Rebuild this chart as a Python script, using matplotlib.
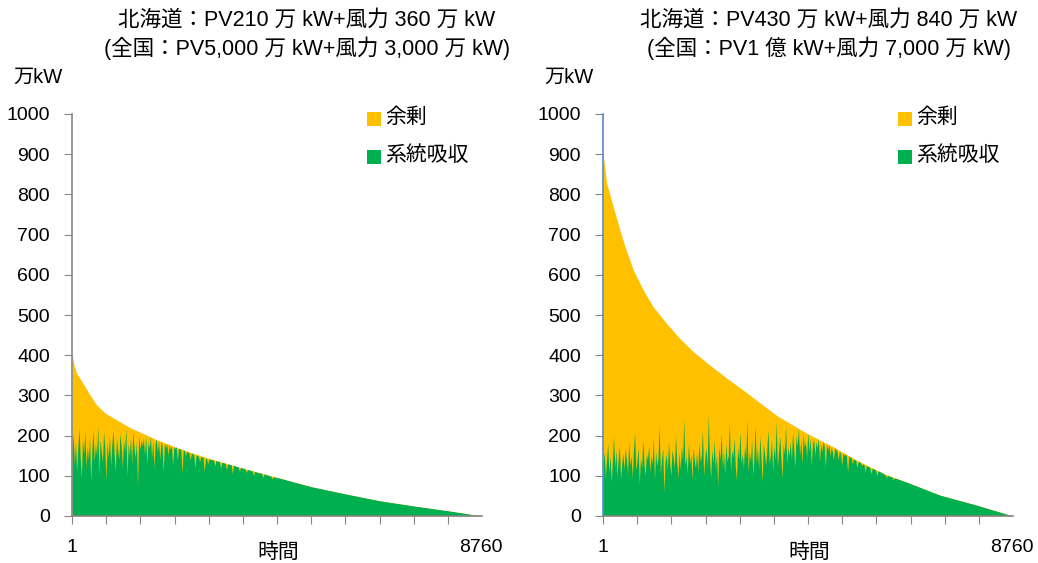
import numpy as np
import matplotlib.pyplot as plt
from matplotlib.patches import Rectangle

plt.rcParams['font.family'] = ['Liberation Sans', 'Noto Sans CJK JP']

YELLOW = '#FFC000'
GREEN = '#00B050'
GREY = '#868686'

# 年間持続曲線（降順）: 時間, 万kW
hk_hours = [1, 14, 43, 100, 171, 278, 385, 527, 720, 955, 1239, 1467, 1809,
            2179, 2521, 2913, 3650, 4380, 5110, 5840, 6570, 7300, 8030, 8760]
hk_total = [400, 396, 376, 355, 342, 322, 301, 276, 255, 239, 220, 208, 190,
            173, 159, 144, 119, 96, 73, 55, 38, 25, 13, 0]

nat_hours = [1, 79, 220, 363, 470, 648, 861, 1075, 1361, 1645, 1929, 2286,
             2643, 2963, 3711, 4352, 4921, 5420, 5989, 6559, 7200, 7984, 8760]
nat_total = [902, 828, 769, 711, 670, 612, 562, 520, 479, 441, 409, 375,
             343, 316, 250, 206, 172, 139, 106, 81, 52, 27, 0]

# 系統吸収量（25時間ごと）
hk_absorb = [
    160, 205, 130, 185, 110, 170, 220, 145, 95, 190, 155, 210, 120, 175, 140,
    200, 85, 165, 215, 135,
    180, 150, 225, 105, 190, 160, 135, 210, 170, 90, 185, 145, 200, 125, 175,
    215, 155, 110, 195, 165,
    140, 205, 175, 120, 190, 160, 220, 100, 180, 150, 195, 130, 210, 170, 145,
    185, 75, 200, 165, 190,
    175, 195, 150, 200, 130, 185, 170, 198, 145, 190, 120, 180, 192, 160, 188,
    140, 185, 175, 110, 182,
    170, 180, 150, 178, 165, 176, 125, 172, 168, 174, 140, 170, 166, 168, 105,
    165, 163, 150, 162, 158,
    158, 140, 156, 155, 153, 120, 152, 150, 149, 135, 148, 147, 146, 110, 144,
    143, 130, 142, 141, 140,
    140, 139, 125, 138, 137, 136, 135, 118, 134, 133, 132, 131, 115, 130, 129,
    128, 128, 105, 126, 126,
    124, 123, 122, 112, 121, 120, 119, 118, 117, 108, 116, 115, 114, 113, 112,
    100, 111, 110, 109, 108,
    107, 106, 106, 95, 105, 104, 103, 102, 101, 100, 99, 92, 98, 97, 96, 96,
]
nat_absorb = [
    125, 160, 95, 140, 180, 110, 150, 85, 135, 200, 120, 165, 100, 145, 175,
    90, 130, 155, 115, 170,
    140, 105, 185, 125, 150, 95, 160, 210, 115, 135, 170, 80, 145, 120, 190,
    130, 100, 155, 140, 175,
    110, 150, 130, 195, 90, 160, 125, 145, 225, 105, 140, 170, 60, 135, 155,
    115, 185, 130, 100, 165,
    145, 120, 200, 135, 95, 160, 115, 175, 140, 240, 125, 150, 105, 180, 130,
    155, 90, 170, 140, 120,
    160, 110, 185, 135, 150, 215, 100, 145, 170, 125, 250, 140, 95, 165, 130,
    190, 115, 155, 75, 175,
    140, 205, 120, 160, 105, 180, 135, 150, 230, 110, 165, 145, 195, 125, 90,
    170, 140, 210, 130, 155,
    120, 175, 145, 240, 110, 160, 135, 190, 100, 150, 225, 130, 170, 115, 200,
    145, 85, 180, 155, 125,
    165, 215, 130, 150, 190, 110, 175, 140, 235, 120, 160, 200, 145, 95, 180,
    155, 225, 130, 170, 150,
    185, 140, 210, 165, 120, 200, 175, 220, 150, 190, 130, 205, 170, 185, 145,
    210, 160, 195, 125, 180,
    190, 150, 185, 170, 195, 135, 180, 160, 185, 175, 120, 180, 165, 178, 150,
    172, 160, 140, 170, 165,
    160, 140, 162, 155, 125, 158, 150, 155, 148, 110, 150, 145, 147, 130, 142,
    140, 138, 120, 136, 134,
    133, 125, 130, 128, 110, 126, 124, 122, 121, 105, 119, 118, 116, 115, 100,
    113, 111, 110, 109, 107,
    104, 103, 96, 101, 100, 99, 98, 97, 90, 95, 94, 93, 92, 91, 90, 89,
]
STEP = 25

W, H = 1038, 563


def fx(x):
    return x / W


def fy(y):
    return 1 - y / H


def draw_panel(ax, hours, total, absorb, spine_color):
    yel = ax.fill_between(hours, 0, total, color=YELLOW, lw=0)
    step_h = np.arange(len(absorb)) * STEP + 1
    tail = [i for i, h in enumerate(hours) if h > step_h[-1]]
    gx = list(step_h) + [hours[i] for i in tail]
    gy = list(absorb) + [total[i] for i in tail]
    grn = ax.fill_between(gx, 0, gy, color=GREEN, lw=0)
    grn.set_clip_path(yel.get_paths()[0], ax.transData)

    ax.set_xlim(1, 8760)
    ax.set_ylim(0, 1000)
    ax.set_xticks(np.arange(1, 8760, 730))
    ax.set_yticks(np.arange(0, 1001, 100))
    ax.tick_params(axis='x', length=6, color=GREY, labelbottom=False)
    ax.tick_params(axis='y', length=6, color=GREY, labelsize=14, pad=10)
    for s in ('top', 'right'):
        ax.spines[s].set_visible(False)
    ax.spines['bottom'].set_color(GREY)
    ax.spines['left'].set_color(spine_color)
    ax.spines['bottom'].set_linewidth(1.2)
    ax.spines['left'].set_linewidth(1.2)


fig = plt.figure(figsize=(W / 100, H / 100), dpi=100)
ax1 = fig.add_axes([fx(72), fy(516), 410 / W, 402 / H])
ax2 = fig.add_axes([fx(603), fy(516), 410 / W, 402 / H])

draw_panel(ax1, hk_hours, hk_total, hk_absorb, GREY)
draw_panel(ax2, nat_hours, nat_total, nat_absorb, '#5B87C9')

titles = [
    ('北海道：PV210 万 kW+風力 360 万 kW',
     '(全国：PV5,000 万 kW+風力 3,000 万 kW)', 307, 72),
    ('北海道：PV430 万 kW+風力 840 万 kW',
     '(全国：PV1 億 kW+風力 7,000 万 kW)', 829, 603),
]
for l1, l2, cx, x0 in titles:
    fig.text(fx(cx), fy(20), l1, ha='center', va='center', fontsize=15.5)
    fig.text(fx(cx), fy(48), l2, ha='center', va='center', fontsize=15.5)
    fig.text(fx(x0 - 34), fy(77), '万kW', ha='center', va='center',
             fontsize=14.5)
    fig.text(fx(x0), fy(547), '1', ha='center', va='center', fontsize=14)
    fig.text(fx(x0 + 409), fy(547), '8760', ha='center', va='center',
             fontsize=14)
    fig.text(fx(x0 + 206), fy(552), '時間', ha='center', va='center',
             fontsize=15)
    # 凡例
    lx = x0 + 295
    for y, col, lab in ((119, YELLOW, '余剰'), (157, GREEN, '系統吸収')):
        fig.add_artist(Rectangle((fx(lx), fy(y + 7)), 14 / W, 14 / H,
                                 transform=fig.transFigure, color=col,
                                 lw=0))
        fig.text(fx(lx + 18), fy(y - 2), lab, ha='left', va='center',
                 fontsize=15)

fig.savefig('out.png', dpi=100)
